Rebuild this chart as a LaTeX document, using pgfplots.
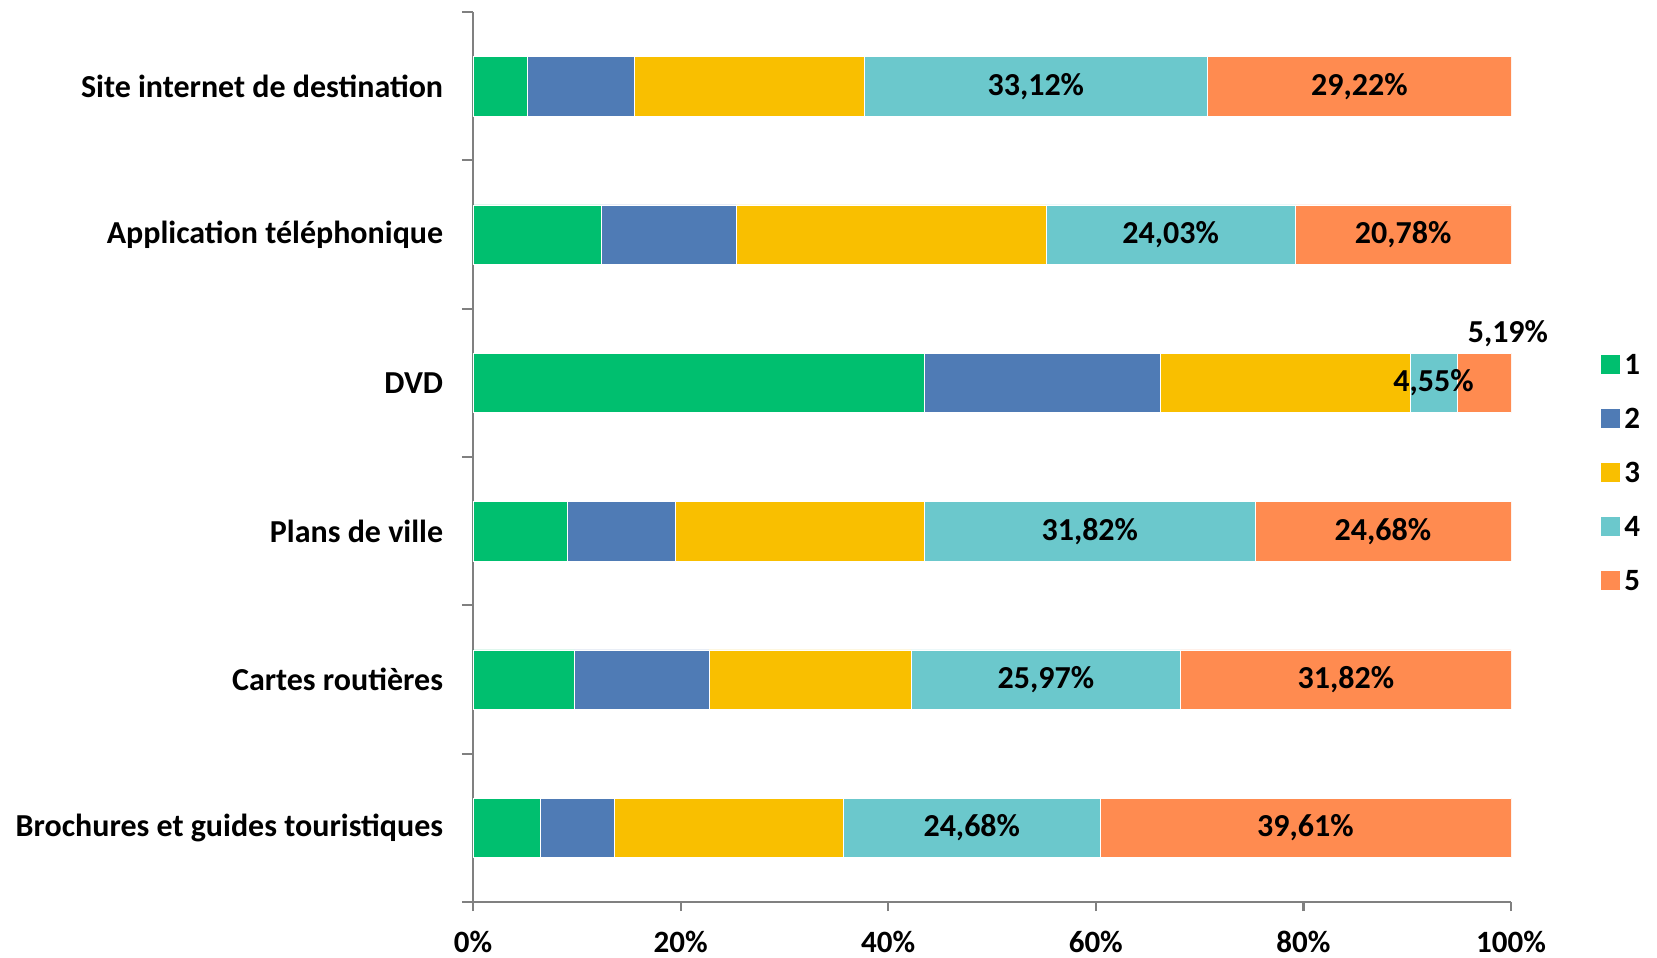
\documentclass[border=0pt]{standalone}
\usepackage{pgfplots}
\pgfplotsset{compat=1.18}
\usepackage{pgfplotstable}
\usepackage{fontspec}
\setmainfont{Carlito}
\definecolor{c1}{RGB}{0,191,111}
\definecolor{c2}{RGB}{79,123,181}
\definecolor{c3}{RGB}{249,191,0}
\definecolor{c4}{RGB}{107,200,204}
\definecolor{c5}{RGB}{255,139,80}
\definecolor{axgray}{RGB}{128,128,128}
\newcommand{\lf}{\fontsize{16}{18}\selectfont\bfseries}
\newcommand{\tf}{\fontsize{15.5}{18}\selectfont\bfseries}

\pgfplotstableread{
y s1 s2 s3 s4 s5
0 6.49 7.14 22.08 24.68 39.61
1 9.74 12.99 19.48 25.97 31.82
2 9.09 10.39 24.03 31.82 24.67
3 43.51 22.73 24.03 4.55 5.18
4 12.34 12.99 29.87 24.03 20.77
5 5.19 10.39 22.08 33.12 29.22
}\datatab

\pgfplotstableread{
x y lab
48.05 0 {24,68\%}
80.19 0 {39,61\%}
55.19 1 {25,97\%}
84.09 1 {31,82\%}
59.42 2 {31,82\%}
87.66 2 {24,68\%}
92.53 3 {4,55\%}
99.7 3.33 {5,19\%}
67.21 4 {24,03\%}
89.61 4 {20,78\%}
54.22 5 {33,12\%}
85.39 5 {29,22\%}
}\labtab

\begin{document}
\begin{tikzpicture}
\begin{axis}[
  name=main,
  scale only axis, width=519pt, height=445pt,
  xbar stacked, bar width=0.4,
  xmin=0, xmax=100, ymin=-0.5, ymax=5.5,
  axis x line*=bottom, axis y line*=left,
  axis line style={draw=axgray, line width=1.1pt},
  tick style={draw=axgray, line width=1.1pt},
  tick align=outside,
  major tick length=4.5pt, minor tick length=5.5pt,
  xtick={0,20,...,100},
  xticklabels={0\%,20\%,40\%,60\%,80\%,100\%},
  xticklabel style={font=\tf, inner sep=0pt, yshift=-9.8pt},
  ytick={0,...,5},
  every major y tick/.append style={draw=none},
  minor ytick={-0.5,0.5,...,5.5},
  yticklabels={Brochures et guides touristiques, Cartes routières, Plans de ville, DVD, Application téléphonique, Site internet de destination},
  yticklabel style={font=\lf, inner sep=0pt, xshift=-10.25pt},
  /pgf/number format/assume math mode=true,
  legend style={draw=none, fill=none, at={(1,1)}, anchor=north west, xshift=45pt, yshift=-168.8pt,
    inner sep=0pt, row sep=13pt, font=\tf,
    nodes={inner sep=2pt, text height=10pt, text depth=0pt, anchor=west}},
  legend cell align=left,
  legend image code/.code={\path[#1, draw=none] (0pt,-4.75pt) rectangle (9.5pt,4.75pt);},
]
\addplot[fill=c1, draw=white, line width=0.3pt] table[x=s1, y=y]{\datatab};
\addplot[fill=c2, draw=white, line width=0.3pt] table[x=s2, y=y]{\datatab};
\addplot[fill=c3, draw=white, line width=0.3pt] table[x=s3, y=y]{\datatab};
\addplot[fill=c4, draw=white, line width=0.3pt] table[x=s4, y=y]{\datatab};
\addplot[fill=c5, draw=white, line width=0.3pt] table[x=s5, y=y]{\datatab};
\legend{1,2,3,4,5}
\end{axis}
\begin{axis}[
  scale only axis, width=519pt, height=445pt,
  xmin=0, xmax=100, ymin=-0.5, ymax=5.5,
  hide axis, clip=false,
]
\addplot[draw=none, mark=none, nodes near coords, point meta=explicit symbolic,
  every node near coord/.style={anchor=center, font=\lf, text=black, inner sep=0pt}]
  table[x=x, y=y, meta=lab]{\labtab};
\end{axis}
\pgfresetboundingbox
\useasboundingbox (main.south west) ++(-236.5pt,-27.5pt) rectangle ++(828.5pt,478.5pt);
\end{tikzpicture}
\end{document}
